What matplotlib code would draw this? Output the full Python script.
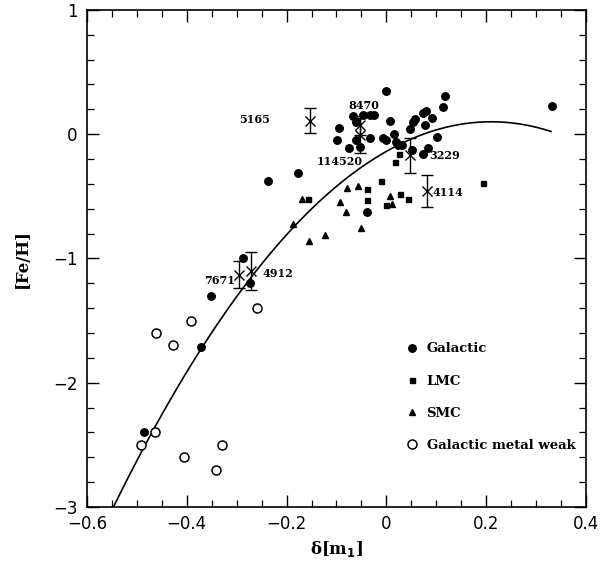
import numpy as np
import matplotlib
matplotlib.use("Agg")
import matplotlib.pyplot as plt
from matplotlib.ticker import MultipleLocator, FixedLocator

# Galactic (filled circles)
gal_x = [0.0, 0.117, 0.114, 0.079, 0.074, 0.057, 0.054, 0.091, 0.077, 0.047,
         0.101, 0.083, 0.074, 0.051, 0.031, 0.007, -0.006, 0.0, 0.015, 0.019,
         0.024, -0.066, -0.047, -0.033, -0.025, -0.094, -0.061, -0.098, -0.061,
         -0.033, -0.074, -0.053, -0.177, -0.237, -0.038, -0.288, -0.273, -0.351,
         -0.371, -0.485, 0.331]
gal_y = [0.35, 0.31, 0.22, 0.19, 0.17, 0.12, 0.10, 0.13, 0.07, 0.04,
         -0.02, -0.115, -0.16, -0.13, -0.09, 0.11, -0.03, -0.05, 0.005, -0.06,
         -0.09, 0.145, 0.158, 0.158, 0.158, 0.05, 0.10, -0.05, -0.05,
         -0.03, -0.115, -0.10, -0.31, -0.38, -0.63, -1.0, -1.2, -1.3,
         -1.71, -2.4, 0.23]

# LMC (squares)
lmc_x = [-0.158, -0.038, -0.039, -0.011, 0.017, 0.026, 0.027, 0.044, 0.0, 0.194]
lmc_y = [-0.525, -0.445, -0.53, -0.375, -0.22, -0.16, -0.48, -0.52, -0.57, -0.39]

# SMC (triangles)
smc_x = [-0.17, -0.078, -0.056, -0.093, -0.08, -0.051, -0.122, -0.155, -0.187, 0.007, 0.011]
smc_y = [-0.525, -0.43, -0.415, -0.545, -0.625, -0.754, -0.813, -0.861, -0.72, -0.497, -0.558]

# Galactic metal weak (open circles)
mw_x = [-0.462, -0.427, -0.392, -0.259, -0.464, -0.491, -0.406, -0.341, -0.329]
mw_y = [-1.6, -1.7, -1.5, -1.4, -2.4, -2.5, -2.6, -2.7, -2.5]

# stars with error bars
star_names = ["5165", "8470", "114520", "3229", "4114", "7671", "4912"]
star_x = [-0.153, -0.053, -0.053, 0.047, 0.081, -0.295, -0.272]
star_y = [0.11, 0.07, -0.01, -0.17, -0.455, -1.13, -1.10]
star_err = [0.10, 0.08, 0.14, 0.14, 0.13, 0.11, 0.15]
label_x = [-0.265, -0.046, -0.093, 0.117, 0.124, -0.335, -0.217]
label_y = [0.12, 0.233, -0.223, -0.17, -0.47, -1.175, -1.12]

# quadratic calibration fit  y = c0 + c1*x + c2*x^2
c0, c1, c2 = -0.1386, 2.272, -5.41
fit_range = (-0.55, 0.33)

xticks = [-0.6, -0.4, -0.2, 0, 0.2, 0.4]
xticklabels = ['\u22120.6', '\u22120.4', '\u22120.2', '0', '0.2', '0.4']
yticks = [-3, -2, -1, 0, 1]
yticklabels = ['\u22123', '\u22122', '\u22121', '0', '1']

fig = plt.figure(figsize=(6.07, 5.61), dpi=100)
ax = fig.add_axes([0.1433, 0.0963, 0.822, 0.886])

xf = np.linspace(fit_range[0], fit_range[1], 200)
ax.plot(xf, c0 + c1*xf + c2*xf**2, color='black', lw=1.2)

ax.plot(gal_x, gal_y, 'o', color='black', ms=5.4, label='Galactic')
ax.plot(lmc_x, lmc_y, 's', color='black', ms=3.6, label='LMC')
ax.plot(smc_x, smc_y, '^', color='black', ms=4.5, label='SMC')
ax.plot(mw_x, mw_y, 'o', mfc='white', mec='black', mew=1.1, ms=6.5,
        label='Galactic metal weak')

ax.errorbar(star_x, star_y, yerr=star_err, fmt='x', color='black', ms=7,
            mew=1.0, elinewidth=1.0, capsize=4, capthick=1.0)
for name, lx, ly in zip(star_names, label_x, label_y):
    ax.text(lx, ly, name, fontsize=8, fontweight='bold', family='DejaVu Serif',
            ha='center', va='center')

ax.set_xlim(-0.6, 0.4)
ax.set_ylim(-3, 1)
ax.xaxis.set_major_locator(FixedLocator(xticks))
ax.xaxis.set_minor_locator(MultipleLocator(0.05))
ax.yaxis.set_major_locator(FixedLocator(yticks))
ax.yaxis.set_minor_locator(MultipleLocator(0.2))
ax.set_xticklabels(xticklabels)
ax.set_yticklabels(yticklabels)
ax.tick_params(which='both', direction='in', top=True, right=True, labelsize=12)
ax.tick_params(which='major', length=8.5, width=1.0)
ax.tick_params(which='minor', length=5, width=0.9)
ax.tick_params(axis='x', pad=6)
ax.tick_params(axis='y', pad=7)
for s in ax.spines.values():
    s.set_linewidth(1.2)

ax.set_xlabel('\u03b4[m$_\\mathbf{1}$]', fontsize=12, fontweight='bold', family='DejaVu Serif')
ax.set_ylabel('[Fe/H]', fontsize=12, fontweight='bold', family='DejaVu Serif', labelpad=16)

leg = ax.legend(loc='upper left', bbox_to_anchor=(0.617, 0.355), frameon=False,
                handlelength=0.8, handletextpad=0.7, labelspacing=1.45,
                prop={'family': 'DejaVu Serif', 'weight': 'bold', 'size': 9.5})

plt.savefig("out.png", dpi=100)
